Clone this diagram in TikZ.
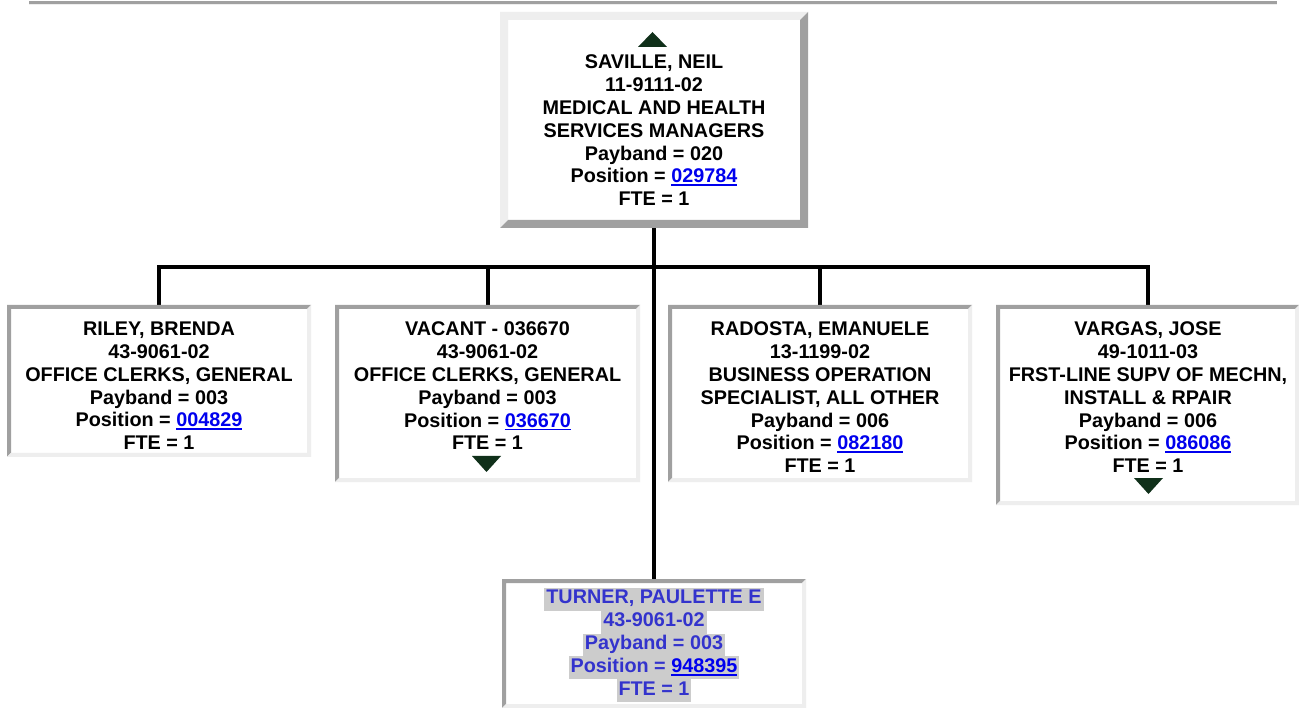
\documentclass[tikz,border=0pt]{standalone}
\usepackage{fontspec}
\setmainfont{Liberation Sans}
\usetikzlibrary{calc}
\definecolor{bevdark}{HTML}{A0A0A0}
\definecolor{bevlight}{HTML}{EEEEEE}
\definecolor{linkblue}{HTML}{0000EE}
\definecolor{selblue}{HTML}{3333CC}
\definecolor{hlgray}{HTML}{CCCCCC}
\definecolor{arrowgreen}{HTML}{10301A}
\newcommand\lnk[1]{\textcolor{linkblue}{\setbox0\hbox{#1}\rlap{\rule[-3.2pt]{\wd0}{1.6pt}}\box0}}
\newcommand\hlline[1]{{\setlength\fboxsep{0pt}\colorbox{hlgray}{\strut\kern2pt #1\kern2pt}}}
% #1 node name, #2 bevel width, #3 top-left colour, #4 bottom-right colour
\newcommand\drawbevel[4]{%
  \fill[#3] (#1.north west) -- (#1.north east) -- ([shift={(-#2,#2)}]#1.north east)
     -- ([shift={(#2,#2)}]#1.north west) -- ([shift={(#2,-#2)}]#1.south west) -- (#1.south west) -- cycle;
  \fill[#4] (#1.south east) -- (#1.north east) -- ([shift={(-#2,#2)}]#1.north east)
     -- ([shift={(-#2,-#2)}]#1.south east) -- ([shift={(#2,-#2)}]#1.south west) -- (#1.south west) -- cycle;}
\begin{document}
\begin{tikzpicture}[x=1pt,y=-1pt,
  card/.style={rectangle, fill=white, inner sep=0pt, outer sep=0pt, anchor=north west},
  txt/.style={anchor=north, align=center, inner sep=0pt, outer sep=0pt,
    font=\fontsize{19.8}{22.8}\selectfont\bfseries},
  conn/.style={line width=4pt, black},
  tri/.style={fill=arrowgreen}]
\useasboundingbox (0,0) rectangle (1299,708);
\fill[white] (0,0) rectangle (1299,708);
% top rule
\fill[bevdark] (29,1.3) rectangle (1277,4.3);
\fill[bevlight] (29,4.3) rectangle (1277,5.5);

% boxes
\node[card, minimum width=308pt, minimum height=216pt] (saville) at (500,12) {};
\node[card, minimum width=304pt, minimum height=152pt] (riley) at (7,305) {};
\node[card, minimum width=305pt, minimum height=177pt] (vacant) at (335,305) {};
\node[card, minimum width=304pt, minimum height=177pt] (radosta) at (668,305) {};
\node[card, minimum width=303pt, minimum height=200pt] (vargas) at (996,305) {};
\node[card, minimum width=304pt, minimum height=129pt] (turner) at (502,579) {};

% connectors
\coordinate (bus) at (654,267);
\draw[conn] (saville.south) -- (turner.north);
\draw[conn] (riley.north) -- (riley.north |- bus) -- (vargas.north |- bus) -- (vargas.north);
\draw[conn] (vacant.north) -- (vacant.north |- bus);
\draw[conn] (radosta.north) -- (radosta.north |- bus);

% frames
\drawbevel{saville}{8}{bevlight}{bevdark}
\drawbevel{riley}{4}{bevdark}{bevlight}
\drawbevel{vacant}{4}{bevdark}{bevlight}
\drawbevel{radosta}{4}{bevdark}{bevlight}
\drawbevel{vargas}{4}{bevdark}{bevlight}
\drawbevel{turner}{4}{bevdark}{bevlight}

% expand / collapse markers
\fill[tri] (638,47) -- (667,47) -- (652.5,32) -- cycle;
\fill[tri] (472,456) -- (501,456) -- (486.5,472) -- cycle;
\fill[tri] (1134,478) -- (1163,478) -- (1148.5,494) -- cycle;

% texts
\node[txt] (tsaville) at (654,55) {SAVILLE, NEIL\\11-9111-02\\MEDICAL AND HEALTH\\SERVICES MANAGERS\\Payband = 020\\Position = \lnk{029784}\\FTE = 1};
\node[txt] (triley) at (159,322) {RILEY, BRENDA\\43-9061-02\\OFFICE CLERKS, GENERAL\\Payband = 003\\Position = \lnk{004829}\\FTE = 1};
\node[txt] (tvacant) at (487.5,322) {VACANT - 036670\\43-9061-02\\OFFICE CLERKS, GENERAL\\Payband = 003\\Position = \lnk{036670}\\FTE = 1};
\node[txt] (tradosta) at (820,322) {RADOSTA, EMANUELE\\13-1199-02\\BUSINESS OPERATION\\SPECIALIST, ALL OTHER\\Payband = 006\\Position = \lnk{082180}\\FTE = 1};
\node[txt] (tvargas) at (1148,322) {VARGAS, JOSE\\49-1011-03\\FRST-LINE SUPV OF MECHN,\\INSTALL \& RPAIR\\Payband = 006\\Position = \lnk{086086}\\FTE = 1};
\node[txt, text=selblue] (tturner) at (654,588) {\hlline{TURNER, PAULETTE E}\\\hlline{43-9061-02}\\\hlline{Payband = 003}\\\hlline{Position = \lnk{948395}}\\\hlline{FTE = 1}};
\end{tikzpicture}
\end{document}
